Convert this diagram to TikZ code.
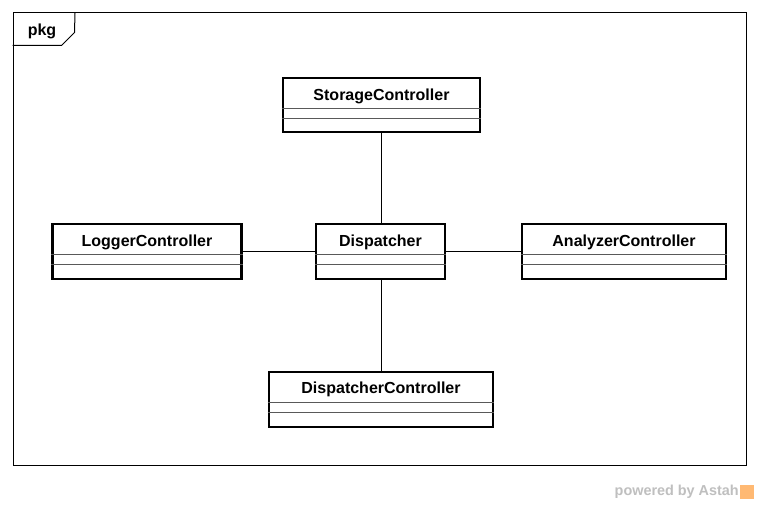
\documentclass[tikz,border=0pt]{standalone}
\usepackage{fontspec}
\setmainfont{Liberation Sans}
\begin{document}
\begin{tikzpicture}[x=0.75pt,y=-0.75pt,
  clsbox/.style={draw, line width=1.9pt, rectangle, inner sep=0pt, fill=white},
  clsname/.style={font=\bfseries\fontsize{12}{14}\selectfont, inner sep=0pt},
  sepline/.style={draw=black!65, line width=0.8pt},
  conn/.style={draw, line width=0.75pt},
  framebox/.style={draw, line width=0.75pt, rectangle, inner sep=0pt}
]
\useasboundingbox (0,0) rectangle (760,505);
\fill[white] (0,0) rectangle (760,505);

% package frame
\node[framebox, minimum width=549.75pt, minimum height=339.75pt] (frame) at (379.5,239.5) {};
\draw[line width=0.75pt] (frame.north west) ++(0,33) coordinate (t1) -- ++(49,0) coordinate (t2) -- ++(13,-13) coordinate (t3) -- (75,13) coordinate (t4);
\node[clsname] (pkg) at (42,31) {pkg};

% classes
\node[clsbox, minimum width=147.75pt, minimum height=40.5pt] (storage) at (381.5,105) {};
\node[clsname] (storagen) at (381.5,96) {StorageController};
\draw[sepline] ([yshift=-23.6pt]storage.north west) -- ([yshift=-23.6pt]storage.north east);
\draw[sepline] ([yshift=-31.2pt]storage.north west) -- ([yshift=-31.2pt]storage.north east);

\node[clsbox, minimum width=141.75pt, minimum height=41.25pt] (logger) at (147,251.5) {};
\node[clsname] (loggern) at (147,242) {LoggerController};
\draw[sepline] ([yshift=-24pt]logger.north west) -- ([yshift=-24pt]logger.north east);
\draw[sepline] ([yshift=-31.5pt]logger.north west) -- ([yshift=-31.5pt]logger.north east);

\node[clsbox, minimum width=96.75pt, minimum height=41.25pt] (disp) at (380.5,251.5) {};
\node[clsname] (dispn) at (380.5,242) {Dispatcher};
\draw[sepline] ([yshift=-24pt]disp.north west) -- ([yshift=-24pt]disp.north east);
\draw[sepline] ([yshift=-31.5pt]disp.north west) -- ([yshift=-31.5pt]disp.north east);

\node[clsbox, minimum width=153pt, minimum height=41.25pt] (analyzer) at (624,251.5) {};
\node[clsname] (analyzern) at (624,242) {AnalyzerController};
\draw[sepline] ([yshift=-24pt]analyzer.north west) -- ([yshift=-24pt]analyzer.north east);
\draw[sepline] ([yshift=-31.5pt]analyzer.north west) -- ([yshift=-31.5pt]analyzer.north east);

\node[clsbox, minimum width=168pt, minimum height=41.25pt] (dc) at (381,399.5) {};
\node[clsname] (dcn) at (381,389) {DispatcherController};
\draw[sepline] ([yshift=-24pt]dc.north west) -- ([yshift=-24pt]dc.north east);
\draw[sepline] ([yshift=-31.5pt]dc.north west) -- ([yshift=-31.5pt]dc.north east);

% connectors
\draw[conn] (storage.south) -- (storage.south |- disp.north);
\draw[conn] (logger.east) -- (disp.west);
\draw[conn] (disp.east) -- (analyzer.west);
\draw[conn] (dc.north |- disp.south) -- (dc.north);

% watermark
\node[font=\bfseries\fontsize{10.8}{12}\selectfont, text=black!25, anchor=east, inner sep=0pt] (wm) at (739,492) {powered by Astah};
\node[fill=orange!55, minimum width=10.5pt, minimum height=10.5pt, inner sep=0pt, anchor=west] (wmicon) at (740,492) {};
\end{tikzpicture}
\end{document}
